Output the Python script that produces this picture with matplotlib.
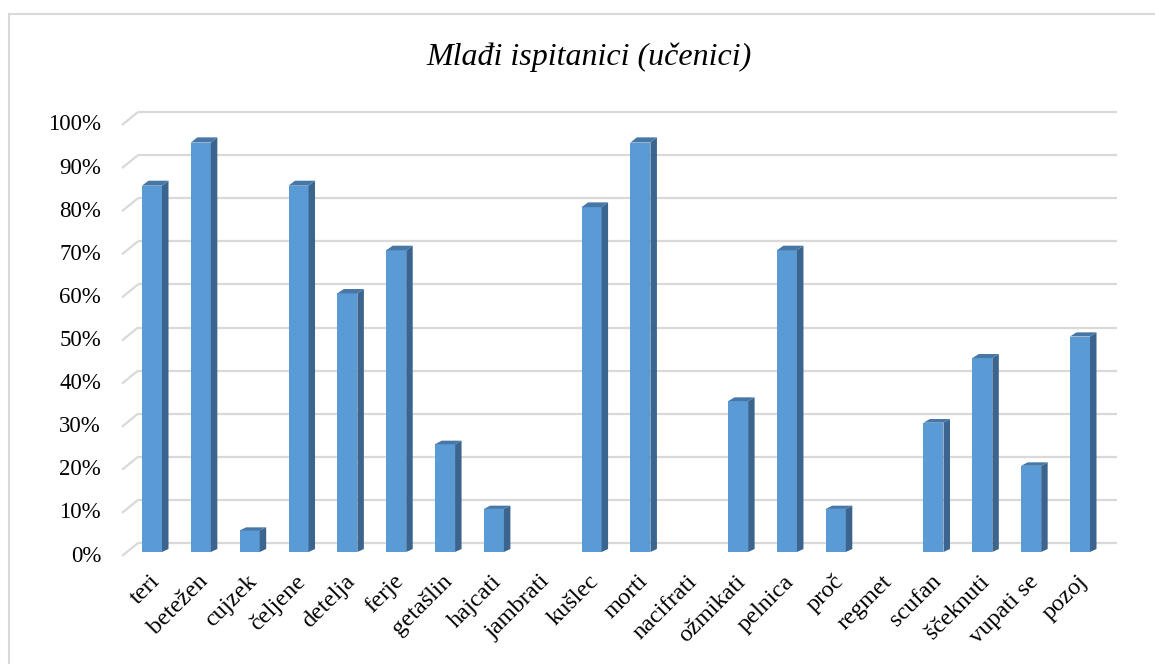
import numpy as np
import matplotlib
matplotlib.use("Agg")
import matplotlib.pyplot as plt
from matplotlib.patches import Polygon
from matplotlib.lines import Line2D

# data
words = ["teri", "betežen", "cujzek", "čeljene", "detelja", "ferje", "getašlin",
         "hajcati", "jambrati", "kušlec", "morti", "nacifrati", "ožmikati",
         "pelnica", "proč", "regmet", "scufan", "ščeknuti", "vupati se", "pozoj"]
percent = [85, 95, 5, 85, 60, 70, 25, 10, 0, 80, 95, 0, 35, 70, 10, 0, 30, 45, 20, 50]
yticks = [0, 10, 20, 30, 40, 50, 60, 70, 80, 90, 100]

W, H = 1155, 664
fig = plt.figure(figsize=(W / 100, H / 100), dpi=100)
plt.rcParams['font.family'] = ['Liberation Serif', 'DejaVu Serif']

# chart border
fig.add_artist(Line2D([9 / W, 9 / W], [0, 1 - 14 / H], color="#d9d9d9", lw=1.5))
fig.add_artist(Line2D([9 / W, 1], [1 - 14 / H, 1 - 14 / H], color="#d9d9d9", lw=1.5))

# plot area (front plane of the bars) in pixels
px_left, px_right = 122, 1101
px_y0, px_y100 = 552, 121
ax = fig.add_axes([px_left / W, (H - px_y0) / H, (px_right - px_left) / W, (px_y0 - px_y100) / H])

x0, x1 = -0.614, 19.43
ax.set_xlim(x0, x1)
ax.set_ylim(0, 100)
ax.axis("off")

ppx = (px_right - px_left) / (x1 - x0)   # pixels per category
ppy = (px_y0 - px_y100) / 100.0          # pixels per percent

# back wall depth, in data units
wall_dx, wall_dy = 16 / ppx, 9 / ppy
front_shift = -4 / ppy   # tick labels / front edge of the floor sit a bit lower
grid_c = "#d9d9d9"

for v in yticks:
    ax.plot([x0, x0 + wall_dx], [v + front_shift, v + wall_dy], color=grid_c, lw=1.6,
            clip_on=False, solid_capstyle="butt", zorder=1)
    ax.plot([x0 + wall_dx, x1 + wall_dx], [v + wall_dy, v + wall_dy], color=grid_c,
            lw=1.6, clip_on=False, solid_capstyle="butt", zorder=1)
    ax.text(-21 / ppx + x0, v + front_shift, f"{v}%", ha="right", va="center",
            fontsize=16.5, color="#000000")

xs = np.arange(len(words))
bw = 0.41
bar_dx = 6.5 / ppx
front_c, side_c, top_c = "#5b9bd5", "#3b658f", "#4677a6"
for x, v in zip(xs, percent):
    if v <= 0:
        continue
    l, r = x - bw / 2, x + bw / 2
    dy_bot = 3 / ppy
    dy_top = (3 + 2.3 * v / 100) / ppy
    ax.add_patch(Polygon([(l, 0), (r, 0), (r, v), (l, v)], closed=True,
                         facecolor=front_c, edgecolor="none", zorder=3, clip_on=False))
    ax.add_patch(Polygon([(r, 0), (r + bar_dx, dy_bot), (r + bar_dx, v + dy_top), (r, v)],
                         closed=True, facecolor=side_c, edgecolor="none", zorder=3,
                         clip_on=False))
    ax.add_patch(Polygon([(l, v), (r, v), (r + bar_dx, v + dy_top), (l + bar_dx, v + dy_top)],
                         closed=True, facecolor=top_c, edgecolor="none", zorder=3,
                         clip_on=False))

for x, w in zip(xs, words):
    ax.text(x - 3 / ppx, -19 / ppy, w, rotation=45, rotation_mode="anchor",
            ha="right", va="top", fontsize=17.5, color="#000000")

fig.text(589 / W, 1 - 57 / H, "Mlađi ispitanici (učenici)", ha="center", va="center",
         fontsize=23, style="italic", color="#000000")

fig.savefig("out.png", dpi=100)
